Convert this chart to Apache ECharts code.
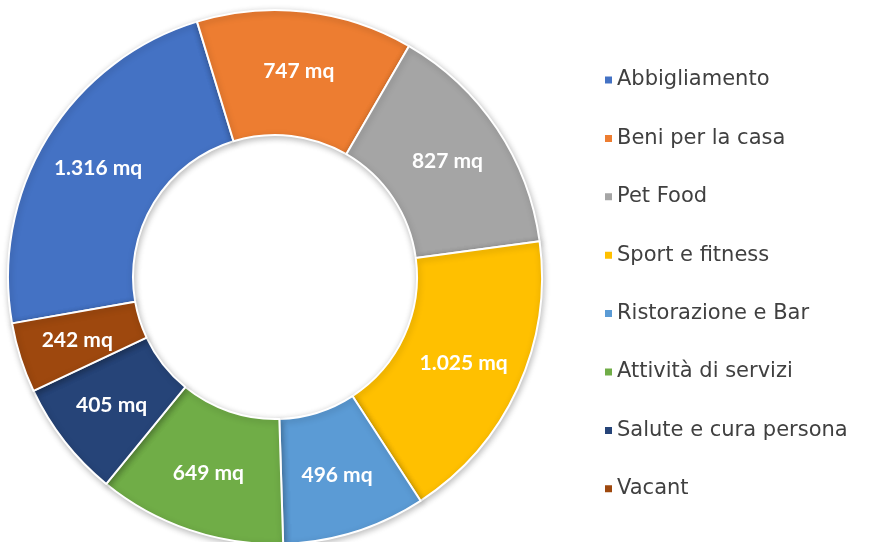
<!DOCTYPE html>
<html>
<head>
<meta charset="utf-8">
<script src="https://cdn.jsdelivr.net/npm/echarts@6/dist/echarts.min.js"></script>
<style>
html,body{margin:0;padding:0;background:#fff;}
#chart{width:884px;height:542px;}
</style>
</head>
<body>
<div id="chart"></div>
<script>
const categories = ["Abbigliamento","Beni per la casa","Pet Food","Sport e fitness","Ristorazione e Bar","Attività di servizi","Salute e cura persona","Vacant"];
const values = [1316, 747, 827, 1025, 496, 649, 405, 242];
const colors = ["#4472C4","#ED7D31","#A5A5A5","#FFC000","#5B9BD5","#70AD47","#264478","#9E480E"];
const unit = "mq";

function fmt(v){
  return String(v).replace(/\B(?=(\d{3})+(?!\d))/g, ".") + " " + unit;
}

const chart = echarts.init(document.getElementById('chart'), null, {renderer:'canvas'});
chart.setOption({
  backgroundColor:'#ffffff',
  animation:false,
  color: colors,
  legend:{
    orient:'vertical',
    left:598,
    top:63,
    itemWidth:9,
    itemHeight:9,
    itemGap:34.4,
    icon:'rect',
    data: categories,
    textStyle:{fontFamily:'DejaVu Sans',fontSize:21,color:'#404040',lineHeight:24,padding:[0,0,0,-1]}
  },
  series:[{
    type:'pie',
    center:[275,277],
    radius:[142,267],
    startAngle:190,
    clockwise:true,
    avoidLabelOverlap:false,
    itemStyle:{borderColor:'#ffffff',borderWidth:2,shadowBlur:6,shadowColor:'rgba(0,0,0,0.25)',shadowOffsetX:1,shadowOffsetY:2},
    label:{
      show:true,
      position:'inside',
      formatter:p=>fmt(p.value),
      color:'#ffffff',
      fontFamily:'Lato',
      fontWeight:'bold',
      fontSize:21
    },
    labelLine:{show:false},
    data: categories.map((c,i)=>({name:c,value:values[i]}))
  }]
});
</script>
</body>
</html>
